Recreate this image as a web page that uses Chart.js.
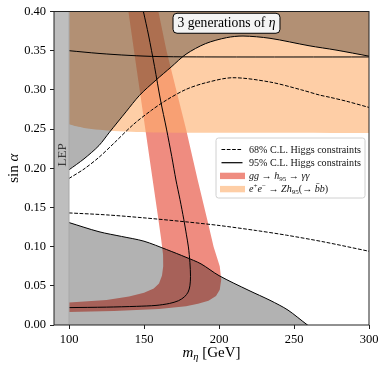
<!DOCTYPE html>
<html>
<head>
<meta charset="utf-8">
<script src="https://cdn.jsdelivr.net/npm/chart.js@4/dist/chart.umd.min.js"></script>
<style>
  html, body { margin: 0; padding: 0; background: #fff; }
  #wrap { width: 386px; height: 370px; position: relative; }
</style>
</head>
<body>
<div id="wrap"><canvas id="chart"></canvas></div>
<script>
// tick positions
const massTicks = [100, 150, 200, 250, 300];
const sinTicks = [0, 0.05, 0.10, 0.15, 0.20, 0.25, 0.30, 0.35, 0.40];

// LEP excluded strip
const lepMass = [90, 100, 100, 90];
const lepSin = [0, 0, 0.4, 0.4];

// 95% C.L. Higgs constraints: upper contour (excluded above)
const upper95Mass = [100, 110, 120, 127, 138, 147, 158, 168, 178, 191, 205, 216, 234, 260, 278, 300];
const upper95Sin = [0.198, 0.212, 0.229, 0.246, 0.272, 0.293, 0.3125, 0.329, 0.3455, 0.359, 0.3666, 0.3687, 0.3658, 0.3563, 0.3508, 0.343];

// 95% C.L.: flat contour near the top
const flat95Mass = [100, 120, 140, 160, 200, 300];
const flat95Sin = [0.350, 0.3465, 0.344, 0.3425, 0.342, 0.342];

// 95% C.L.: lower contour (excluded below)
const lower95Mass = [100, 120, 135, 150, 165, 178, 188, 200, 220, 234, 246, 259, 262];
const lower95Sin = [0.1307, 0.1190, 0.1130, 0.1069, 0.0963, 0.0864, 0.0780, 0.0630, 0.0440, 0.0315, 0.0190, 0, -0.003];

// 95% C.L.: contour running down through the diphoton band
const loop95Mass = [149.6, 153, 157, 161, 165, 168.5, 171.3, 174, 176.5, 178.3, 179.6, 180.6, 181, 180.6, 179.4, 177, 173, 167, 158, 145, 125, 100];
const loop95Sin = [0.40, 0.37, 0.33, 0.287, 0.25, 0.215, 0.185, 0.16, 0.135, 0.115, 0.0996, 0.08, 0.062, 0.05, 0.042, 0.036, 0.031, 0.0275, 0.025, 0.0238, 0.0228, 0.0222];

// 68% C.L. contours (dashed)
const upper68Mass = [100, 110, 120, 130, 143, 155, 165, 178, 191, 209, 234, 255, 267, 274, 285, 300];
const upper68Sin = [0.187, 0.199, 0.214, 0.232, 0.256, 0.274, 0.287, 0.3006, 0.309, 0.3155, 0.310, 0.300, 0.2934, 0.2905, 0.2855, 0.2776];
const lower68Mass = [100, 125, 150, 178, 200, 225, 245, 270, 300];
const lower68Sin = [0.143, 0.1405, 0.1367, 0.1316, 0.127, 0.1205, 0.1146, 0.106, 0.0941];

// e+e- -> Z h95 band, lower edge (band runs to the top)
const zhMass = [100, 105, 110, 120, 130, 145, 160, 200, 300];
const zhSin = [0.2562, 0.2535, 0.2515, 0.249, 0.2475, 0.2463, 0.2457, 0.2452, 0.245];

// gg -> h95 -> yy band: inner edge (top to bottom-left), outer edge (bottom-left to top)
const ggInnerMass = [139.6, 145.2, 150.5, 155.4, 159.2, 161.4, 162.7, 162.8, 162, 160, 156.5, 150, 140, 125, 100];
const ggInnerSin = [0.40, 0.325, 0.255, 0.19, 0.14, 0.11, 0.09, 0.075, 0.063, 0.053, 0.0465, 0.041, 0.0365, 0.032, 0.0286];
const ggOuterMass = [100, 130, 160, 178, 186, 193, 198, 200.5, 201.5, 200.5, 196.4, 192.7, 185.8, 178, 171.5, 165, 159.6];
const ggOuterSin = [0.0166, 0.018, 0.0205, 0.0239, 0.027, 0.031, 0.037, 0.045, 0.058, 0.075, 0.10, 0.13, 0.185, 0.25, 0.30, 0.35, 0.40];

const zip = (xs, ys) => xs.map((x, i) => ({x, y: ys[i]}));
const ggBand = zip(ggInnerMass, ggInnerSin).concat(zip(ggOuterMass, ggOuterSin));

const RED = '#ef8c80';
const ORANGE = 'rgba(253,174,107,0.6)';
const GRAY = 'rgba(0,0,0,0.3)';
const FONT = '"Liberation Serif", "Times New Roman", serif';

// text pieces: [text, italic, shift(-1 sub, 1 sup)]
const titleRuns = [['3 generations of ', 0], ['η', 1]];
const xTitleRuns = [['m', 1], ['η', 1, -1], [' [GeV]', 0]];
const yTitleRuns = [['sin ', 0], ['α', 1]];
const legendRows = [
  {kind: 'dash', runs: [['68% C.L. Higgs constraints', 0]]},
  {kind: 'solid', runs: [['95% C.L. Higgs constraints', 0]]},
  {kind: 'patch', color: RED, runs: [['gg', 1], [' → ', 0], ['h', 1], ['95', 0, -1], [' → ', 0], ['γγ', 1]]},
  {kind: 'patch', color: '#fecea6', runs: [['e', 1], ['+', 0, 1], ['e', 1], ['−', 0, 1], [' → ', 0], ['Zh', 1], ['95', 0, -1], ['(→ ', 0], ['b\u0304b', 1], [')', 0]]}
];

function runFont(size, italic) {
  return (italic ? 'italic ' : '') + size + 'px ' + FONT;
}
function richWidth(ctx, runs, size) {
  let w = 0;
  for (const [t, it, sh] of runs) {
    ctx.font = runFont(sh ? size * 0.7 : size, it);
    w += ctx.measureText(t).width;
  }
  return w;
}
function drawRich(ctx, runs, x, y, size) {
  let cx = x;
  ctx.textAlign = 'left';
  ctx.textBaseline = 'alphabetic';
  for (const [t, it, sh] of runs) {
    const s = sh ? size * 0.7 : size;
    ctx.font = runFont(s, it);
    const dy = sh < 0 ? size * 0.22 : sh > 0 ? -size * 0.38 : 0;
    ctx.fillText(t, cx, y + dy);
    cx += ctx.measureText(t).width;
  }
}
function roundRect(ctx, x, y, w, h, r) {
  ctx.beginPath();
  ctx.moveTo(x + r, y);
  ctx.arcTo(x + w, y, x + w, y + h, r);
  ctx.arcTo(x + w, y + h, x, y + h, r);
  ctx.arcTo(x, y + h, x, y, r);
  ctx.arcTo(x, y, x + w, y, r);
  ctx.closePath();
}

const decorations = {
  id: 'decorations',
  afterDatasetsDraw(chart) {
    const {ctx, chartArea: a, scales: {x, y}} = chart;
    ctx.save();
    ctx.fillStyle = '#000';

    // LEP label
    ctx.save();
    ctx.translate(x.getPixelForValue(95), y.getPixelForValue(0.217));
    ctx.rotate(-Math.PI / 2);
    ctx.fillStyle = '#3a3a3a';
    const lw = richWidth(ctx, [['LEP', 0]], 13);
    drawRich(ctx, [['LEP', 0]], -lw / 2, 4.5, 13);
    ctx.restore();

    // title box
    let ts = 12;
    ts = ts * 98 / richWidth(ctx, titleRuns, ts);
    const tw = richWidth(ctx, titleRuns, ts);
    const tcx = x.getPixelForValue(205), tcy = y.getPixelForValue(0.385);
    roundRect(ctx, tcx - tw / 2 - 4.5, tcy - 10, tw + 9, 20, 4);
    ctx.fillStyle = '#f4f4f4';
    ctx.fill();
    ctx.lineWidth = 1;
    ctx.strokeStyle = '#000';
    ctx.stroke();
    ctx.fillStyle = '#000';
    drawRich(ctx, titleRuns, tcx - tw / 2, tcy + 4, ts);

    // legend
    const lx = a.right - 153, ly = a.top + 126.5, lwid = 149, lh = 60;
    roundRect(ctx, lx, ly, lwid, lh, 2.5);
    ctx.fillStyle = 'rgba(255,255,255,0.85)';
    ctx.fill();
    ctx.strokeStyle = '#d0d0d0';
    ctx.lineWidth = 1;
    ctx.stroke();
    let ls = 10;
    ls = ls * 112 / richWidth(ctx, legendRows[0].runs, ls);
    legendRows.forEach((row, i) => {
      const cy = ly + 11.5 + i * 13.2;
      if (row.kind === 'patch') {
        ctx.fillStyle = row.color;
        ctx.fillRect(lx + 4, cy - 3.2, 25, 6.4);
      } else {
        ctx.strokeStyle = '#000';
        ctx.lineWidth = 1.2;
        ctx.setLineDash(row.kind === 'dash' ? [3.7, 1.6] : []);
        ctx.beginPath();
        ctx.moveTo(lx + 5.5, cy);
        ctx.lineTo(lx + 26.5, cy);
        ctx.stroke();
        ctx.setLineDash([]);
      }
      ctx.fillStyle = '#111';
      drawRich(ctx, row.runs, lx + 33, cy + 3, ls);
    });

    // frame
    ctx.strokeStyle = '#222';
    ctx.lineWidth = 1;
    ctx.strokeRect(a.left, a.top, a.right - a.left, a.bottom - a.top);

    // axis titles
    ctx.fillStyle = '#000';
    const xw = richWidth(ctx, xTitleRuns, 15);
    drawRich(ctx, xTitleRuns, (a.left + a.right) / 2 - xw / 2, 357, 15);
    ctx.save();
    ctx.translate(13, (a.top + a.bottom) / 2);
    ctx.rotate(-Math.PI / 2);
    const yw = richWidth(ctx, yTitleRuns, 15);
    drawRich(ctx, yTitleRuns, -yw / 2, 5, 15);
    ctx.restore();

    ctx.restore();
  }
};

const line = (data, extra) => Object.assign({
  data, pointRadius: 0, pointHoverRadius: 0, borderWidth: 1,
  borderColor: '#000', backgroundColor: 'transparent', fill: false, tension: 0.3
}, extra);

new Chart(document.getElementById('chart'), {
  type: 'line',
  data: {
    datasets: [
      line(zip(lepMass, lepSin), {label: 'LEP', fill: 'shape', backgroundColor: '#bebebe', borderColor: '#a8a8a8', tension: 0, order: 0}),
      line(zip(flat95Mass, flat95Sin), {label: '95% C.L. (flat)', order: 1}),
      line(zip(loop95Mass, loop95Sin), {label: '95% C.L. (band)', order: 1}),
      line(zip(upper68Mass, upper68Sin), {label: '68% C.L. upper', borderDash: [3.7, 1.6], order: 1}),
      line(zip(lower68Mass, lower68Sin), {label: '68% C.L. lower', borderDash: [3.7, 1.6], order: 1}),
      line(zip(upper95Mass, upper95Sin), {label: '95% C.L. upper', fill: 'end', backgroundColor: GRAY, order: 2}),
      line(zip(lower95Mass, lower95Sin), {label: '95% C.L. lower', fill: 'start', backgroundColor: GRAY, order: 2}),
      line(zip(zhMass, zhSin), {label: 'e+e- -> Zh95', fill: 'end', backgroundColor: ORANGE, borderWidth: 0, order: 3}),
      line(ggBand, {label: 'gg -> h95 -> yy', fill: 'shape', backgroundColor: RED, borderWidth: 0, tension: 0, order: 4})
    ]
  },
  options: {
    responsive: true,
    maintainAspectRatio: false,
    animation: false,
    layout: {padding: {top: 11, right: 17, left: 0, bottom: 0}},
    plugins: {legend: {display: false}, tooltip: {enabled: false}},
    scales: {
      x: {
        type: 'linear', min: 90, max: 300,
        afterBuildTicks: s => { s.ticks = massTicks.map(v => ({value: v})); },
        afterFit: s => { s.height = 45; },
        grid: {display: true, drawOnChartArea: false, drawTicks: true, tickLength: 4, color: '#222', lineWidth: 1},
        border: {display: false},
        ticks: {font: {family: FONT, size: 12.5}, color: '#000', padding: 3, maxRotation: 0}
      },
      y: {
        type: 'linear', min: 0, max: 0.4,
        afterBuildTicks: s => { s.ticks = sinTicks.map(v => ({value: v})); },
        afterFit: s => { s.width = 54; },
        grid: {display: true, drawOnChartArea: false, drawTicks: true, tickLength: 4, color: '#222', lineWidth: 1},
        border: {display: false},
        ticks: {font: {family: FONT, size: 12.5}, color: '#000', padding: 4, callback: v => v.toFixed(2)}
      }
    }
  },
  plugins: [decorations]
});
</script>
</body>
</html>
